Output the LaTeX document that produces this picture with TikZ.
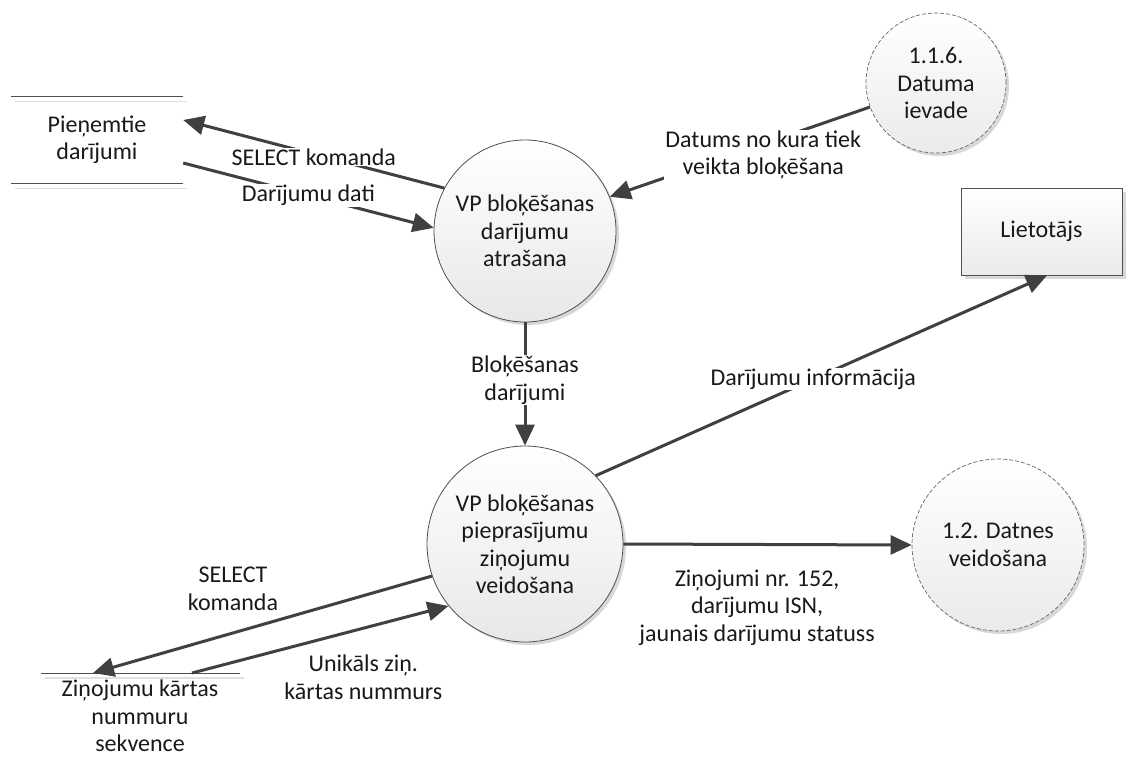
\documentclass[tikz,border=0pt]{standalone}
\usepackage{fontspec}
\setmainfont{Carlito}
\usetikzlibrary{arrows.meta,shadows,calc}
\definecolor{arrowc}{HTML}{404040}
\definecolor{bordc}{HTML}{505050}
\begin{document}
\begin{tikzpicture}[x=1pt,y=-1pt,
  every node/.style={font=\fontsize{24}{27.5}\selectfont, text=black!90, align=center},
  proc/.style={circle, draw=bordc, line width=0.8pt, top color=white, bottom color=black!9,
    minimum size=#1, inner sep=0pt,
    drop shadow={shadow xshift=3pt, shadow yshift=-3pt, fill=black!30, opacity=0.5}},
  ext/.style={circle, draw=black!60, dash pattern=on 4pt off 2pt, line width=0.7pt,
    top color=white, bottom color=black!8, minimum size=#1, inner sep=0pt,
    drop shadow={shadow xshift=3pt, shadow yshift=-3pt, fill=black!30, opacity=0.5}},
  entity/.style={rectangle, draw=bordc, line width=0.8pt, top color=white, bottom color=black!8,
    minimum width=161pt, minimum height=87pt, inner sep=0pt,
    drop shadow={shadow xshift=4pt, shadow yshift=-4pt, fill=black!30, opacity=0.5}},
  storeline/.style={draw=bordc, line width=1pt},
  storeshadow/.style={draw=black!12, line width=1.5pt},
  flow/.style={draw=arrowc, line width=3pt, -{Triangle[length=21pt,width=19pt]}},
  lbl/.style={fill=white, inner sep=1pt}
]
\useasboundingbox (0,0) rectangle (1127,758);

% data store 1
\node[minimum width=172pt, minimum height=87pt, inner sep=0pt] (s1) at (97,140) {Pieņemtie\\darījumi};
\draw[storeshadow] ($(s1.north west)+(4,5)$) -- ($(s1.north east)+(4,5)$);
\draw[storeshadow] ($(s1.south west)+(4,5)$) -- ($(s1.south east)+(4,5)$);
\draw[storeline] (s1.north west) -- (s1.north east);
\draw[storeline] (s1.south west) -- (s1.south east);

% data store 2
\node[minimum width=199pt, inner sep=0pt] (s2) at (140,716) {Ziņojumu kārtas\\nummuru\\sekvence};
\coordinate (s2top) at ($(s2.center)+(0,-43)$);
\coordinate (s2l) at ($(s2top)+(-99,0)$);
\coordinate (s2r) at ($(s2top)+(100,0)$);
\draw[storeshadow] ($(s2l)+(4,5)$) -- ($(s2r)+(4,5)$);
\draw[storeline] (s2l) -- (s2r);

% processes
\node[proc=182pt] (c1) at (525,231) {VP bloķēšanas\\darījumu\\atrašana};
\node[proc=196pt] (c2) at (525,544) {VP bloķēšanas\\pieprasījumu\\ziņojumu\\veidošana};
\node[ext=140pt] (d1) at (936,83) {1.1.6.\\Datuma\\ievade};
\node[ext=172pt] (d2) at (998,545) {1.2. Datnes\\veidošana};
\node[entity] (u) at (1041.5,231.5) {Lietotājs};

% flows
\draw[flow] (c1.152) -- node[lbl, pos=0.5, yshift=-3pt] {SELECT komanda} ($(s1.east)+(0,-20)$);
\draw[flow] ($(s1.east)+(0,23)$) -- node[lbl, pos=0.5] {Darījumu dati} (c1.178);
\draw[flow] (d1.200) -- node[lbl, pos=0.41, yshift=-11pt] {Datums no kura tiek\\veikta bloķēšana} (c1.22);
\draw[flow] (c1.south) -- node[lbl, pos=0.47] {Bloķēšanas\\darījumi} (c2.north);
\draw[flow] (c2.44) -- node[lbl, pos=0.482] {Darījumu informācija} ($(u.south)+(5.5,0)$);
\draw[flow] (c2.east) -- node[pos=0.464, yshift=-63pt] {Ziņojumi nr. 152,\\darījumu ISN,\\jaunais darījumu statuss} (d2.west);
\draw[flow] (c2.199) -- node[pos=0.587, yshift=44pt] {SELECT\\komanda} ($(s2top)+(-47,0)$);
\draw[flow] ($(s2top)+(52,0)$) -- node[lbl, pos=0.668, yshift=-49pt] {Unikāls ziņ.\\kārtas nummurs} (c2.219);
\end{tikzpicture}
\end{document}
